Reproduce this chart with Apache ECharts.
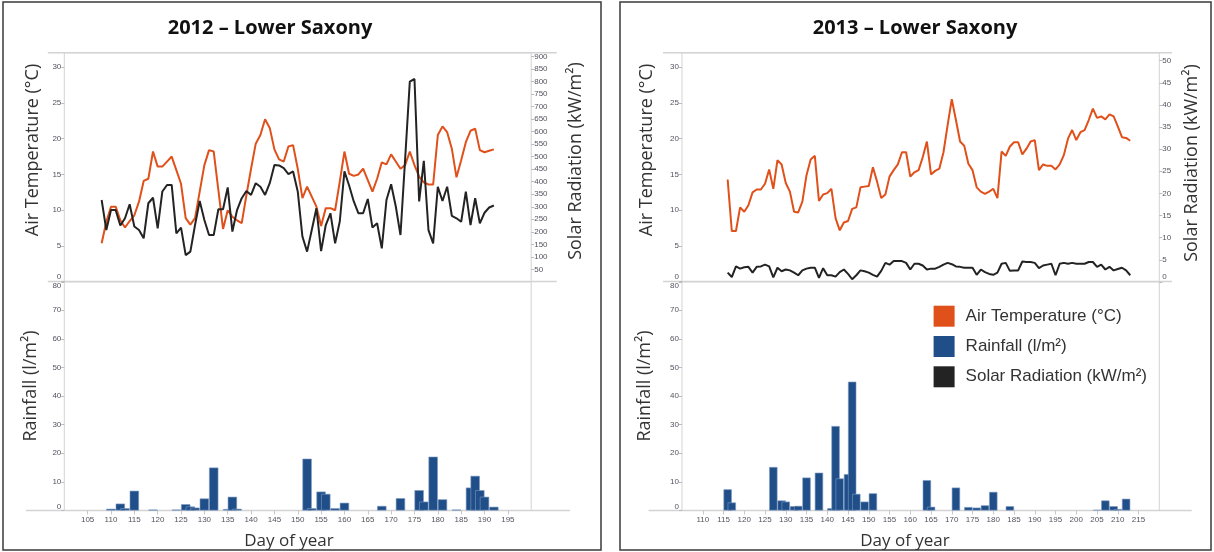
<!DOCTYPE html>
<html>
<head>
<meta charset="utf-8">
<script src="https://cdn.jsdelivr.net/npm/echarts@6/dist/echarts.min.js"></script>
<style>
  html, body { margin: 0; padding: 0; background: #fff; }
  #chart { width: 1214px; height: 552px; }
</style>
</head>
<body>
<div id="chart"></div>
<script>
// 2012 - daily values, first day 108
const startDay2012 = 108;
const temp2012 = [
  5.4, 8.4, 10.5, 10.5, 8.6, 7.6, 8.5, 9.3, 11.2, 14.1,
  14.4, 18.2, 16.1, 16.1, 16.8, 17.5, 15.6, 13.7, 8.9, 8.0,
  8.9, 12.6, 16.3, 18.4, 18.2, 12.8, 7.4, 10.0, 9.1, 8.6,
  8.2, 12.1, 15.8, 19.3, 20.5, 22.7, 21.5, 18.5, 17.1, 16.8,
  18.9, 19.1, 15.8, 11.7, 13.3, 11.9, 10.5, 7.8, 10.3, 10.3,
  10.0, 14.0, 18.2, 15.1, 14.8, 15.0, 15.8, 14.2, 12.6, 14.4,
  16.7, 16.4, 17.8, 16.8, 15.8, 16.3, 18.2, 16.3, 14.7, 13.9,
  13.6, 13.6, 20.5, 21.7, 20.9, 18.6, 14.6, 17.0, 19.5, 21.1,
  21.4, 18.4, 18.1, 18.3, 18.5
];
const solar2012 = [
  327, 207, 287, 287, 225, 254, 310, 221, 207, 174,
  314, 336, 214, 361, 387, 387, 194, 217, 107, 121,
  227, 323, 247, 187, 187, 290, 290, 377, 201, 287,
  334, 363, 347, 394, 380, 347, 394, 467, 465, 454,
  430, 441, 361, 181, 121, 207, 294, 123, 227, 274,
  154, 241, 441, 385, 321, 274, 274, 331, 217, 234,
  134, 327, 390, 301, 187, 490, 800, 810, 321, 483,
  207, 154, 380, 323, 380, 264, 254, 240, 360, 227,
  334, 234, 276, 297, 305
];
const rainDays2012 = [110, 112, 113, 115, 119, 124, 126, 127, 128, 130, 132, 135, 136, 137,
  152, 153, 155, 156, 158, 160, 168, 172, 176, 177, 179, 181, 184, 187, 188, 189, 190, 192];
const rain2012 = [0.6, 2.4, 0.8, 6.9, 0.3, 0.3, 2.2, 1.4, 1.0, 4.2, 15.0, 0.5, 4.8, 0.6,
  18.1, 0.8, 6.6, 5.8, 0.8, 2.7, 1.6, 4.3, 7.1, 3.1, 18.8, 3.9, 0.3, 8.0, 12.1, 7.1, 4.8, 1.3];

// 2013 - daily values, first day 116
const startDay2013 = 116;
const temp2013 = [
  14.3, 7.1, 7.1, 10.4, 9.8, 10.7, 12.5, 12.9, 12.9, 13.7,
  15.7, 13.0, 17.0, 16.4, 13.8, 12.6, 9.8, 9.7, 11.2, 14.9,
  17.1, 17.6, 11.3, 12.2, 12.4, 13.0, 8.9, 7.2, 8.3, 8.5,
  10.2, 10.4, 13.2, 13.3, 13.4, 16.0, 14.0, 11.7, 12.2, 14.7,
  15.6, 16.4, 18.1, 18.1, 14.7, 15.3, 15.6, 17.4, 19.6, 15.0,
  15.5, 15.8, 18.1, 21.9, 25.5, 22.6, 19.6, 19.0, 16.5, 15.6,
  13.2, 12.6, 12.3, 12.6, 13.0, 11.7, 18.2, 17.6, 18.9, 19.5,
  19.5, 17.8, 18.6, 19.6, 19.8, 15.6, 16.4, 16.2, 16.2, 15.7,
  16.4, 17.7, 20.0, 21.2, 19.8, 20.9, 21.2, 22.6, 24.2, 22.9,
  23.1, 22.7, 23.4, 23.1, 21.7, 20.2, 20.1, 19.7
];
const solar2013 = [
  2.1, 1.1, 3.5, 3.0, 3.3, 3.4, 2.1, 3.4, 3.5, 3.9,
  3.5, 1.0, 3.2, 2.4, 2.8, 2.6, 2.1, 1.5, 2.6, 3.0,
  3.2, 3.2, 0.9, 3.1, 1.5, 1.5, 1.2, 2.2, 2.8, 1.8,
  0.6, 1.5, 2.6, 2.4, 2.1, 1.6, 1.2, 2.5, 4.3, 3.9,
  4.7, 4.7, 4.7, 4.3, 2.8, 4.1, 4.1, 3.7, 2.8, 3.0,
  3.0, 3.4, 3.9, 4.3, 4.0, 3.5, 3.4, 3.2, 3.2, 3.2,
  1.6, 2.8, 2.2, 1.8, 1.6, 2.1, 4.1, 4.3, 2.5, 2.6,
  2.6, 4.6, 4.5, 4.5, 4.3, 3.1, 3.7, 3.9, 4.1, 1.5,
  4.1, 4.3, 4.1, 4.3, 4.1, 4.1, 4.1, 4.5, 4.5, 3.4,
  3.9, 2.8, 3.4, 2.6, 2.9, 3.2, 2.6, 1.5
];
const rainDays2013 = [116, 117, 127, 129, 130, 132, 133, 135, 138, 141, 142, 143, 145, 146, 147, 149, 151,
  164, 165, 171, 174, 176, 178, 180, 184, 205, 207, 209, 210, 212];
const rain2013 = [7.4, 2.8, 15.2, 3.5, 3.1, 1.5, 1.6, 11.5, 13.2, 0.8, 29.5, 11.2, 12.7, 45.0, 5.8, 3.1, 6.0,
  10.6, 1.3, 8.0, 1.2, 1.0, 1.8, 6.5, 1.5, 0.2, 3.5, 1.5, 0.5, 4.1];

const nameTemp = 'Air Temperature (°C)';
const nameRain = 'Rainfall (l/m²)';
const nameSolar = 'Solar Radiation (kW/m²)';

const cTemp = '#e0501a';
const cRain = '#1f4e89';
const cSolar = '#232323';

function daily(start, values) {
  return values.map((v, i) => [start + i, v]);
}
function pairs(days, values) {
  return days.map((d, i) => [d, values[i]]);
}

const labelColor = '#55525f';
const frameColor = '#d3d3d3';
const font = 'Open Sans';

function shiftLabel(shifted, pad) {
  return {
    fontSize: 8, color: labelColor, fontFamily: 'Liberation Sans',
    formatter: v => (v === shifted ? '{s|' + v + '}' : String(v)),
    rich: { s: { fontSize: 8, color: labelColor, fontFamily: 'Liberation Sans', padding: pad } }
  };
}

function rainLabel() {
  const l = shiftLabel(0, [0, 0, 8, 0]);
  l.formatter = v => (v === 0 ? '{s|0}' : v === 80 ? '{d|80}' : String(v));
  l.rich.d = { fontSize: 8, color: labelColor, fontFamily: 'Liberation Sans', padding: [8, 0, 0, 0] };
  return l;
}

function yAx(grid, pos, min, max, interval, label) {
  return {
    type: 'value', gridIndex: grid, position: pos, min: min, max: max, interval: interval,
    axisLine: { show: false },
    axisTick: { show: true, length: 3, lineStyle: { color: '#bbb' } },
    splitLine: { show: false },
    axisLabel: Object.assign({ margin: 3 }, label)
  };
}

function xAx(grid, min, max, show) {
  return {
    type: 'value', gridIndex: grid, min: min, max: max, interval: 5,
    show: show,
    axisLine: { show: false },
    axisTick: { show: true, length: 4, lineStyle: { color: '#c8c8c8' } },
    splitLine: { show: false },
    axisLabel: { fontSize: 8, color: labelColor, fontFamily: 'Liberation Sans', margin: 5,
      showMinLabel: false, showMaxLabel: false }
  };
}

function hline(x1, x2, y) {
  return { type: 'line', shape: { x1: x1, y1: y, x2: x2, y2: y }, style: { stroke: frameColor, lineWidth: 1.5 }, silent: true };
}
function vtext(x, y, text) {
  return { type: 'text', x: x, y: y, rotation: Math.PI / 2,
    style: { text: text, fill: '#333', fontSize: 18, fontFamily: font, align: 'center', verticalAlign: 'middle' } };
}
function htext(x, y, text, size, weight) {
  return { type: 'text', x: x, y: y,
    style: { text: text, fill: weight ? '#111' : '#333', fontSize: size, fontWeight: weight || 'normal',
      fontFamily: font, align: 'center', verticalAlign: 'middle' } };
}

const chart = echarts.init(document.getElementById('chart'));

const gridStyle = { show: true, borderColor: frameColor, borderWidth: 1, backgroundColor: 'transparent' };
const barStyle = { color: cRain, borderColor: '#7f9cc2', borderWidth: 0.6 };

const option = {
  animation: false,
  backgroundColor: '#fff',
  grid: [
    Object.assign({ left: 64.3, top: 52.7, width: 466.9, height: 229.2 }, gridStyle),
    Object.assign({ left: 64.3, top: 281.5, width: 466.9, height: 229 }, gridStyle),
    Object.assign({ left: 682, top: 52.7, width: 477.3, height: 229.2 }, gridStyle),
    Object.assign({ left: 682, top: 281.5, width: 477.3, height: 229 }, gridStyle)
  ],
  xAxis: [
    xAx(0, 100, 200, false),
    xAx(1, 100, 200, true),
    xAx(2, 105, 220, false),
    xAx(3, 105, 220, true)
  ],
  yAxis: [
    yAx(0, 'left', 0, 32, 5, Object.assign(shiftLabel(0, [0, 0, 10, 0]), { showMaxLabel: false })),
    yAx(0, 'right', 0, 915, 50, { fontSize: 8, color: labelColor, fontFamily: 'Liberation Sans', showMinLabel: false, showMaxLabel: false }),
    yAx(1, 'left', 0, 80, 10, rainLabel()),
    yAx(2, 'left', 0, 32, 5, Object.assign(shiftLabel(0, [0, 0, 10, 0]), { showMaxLabel: false })),
    yAx(2, 'right', 0, 51.8, 5, Object.assign(shiftLabel(0, [0, 0, 10, 0]), { showMaxLabel: false })),
    yAx(3, 'left', 0, 80, 10, rainLabel())
  ],
  legend: {
    orient: 'vertical', left: 928.6, top: 300.7,
    itemWidth: 21, itemHeight: 21, itemGap: 9.3, icon: 'rect',
    itemStyle: { borderWidth: 0 },
    textStyle: { fontSize: 17, fontFamily: 'Liberation Sans', color: '#333', padding: [0, 0, 0, 6] },
    data: [nameTemp, nameRain, nameSolar],
    selectedMode: false
  },
  series: [
    { name: nameRain, type: 'bar', xAxisIndex: 1, yAxisIndex: 2, barWidth: 9.3,
      itemStyle: barStyle, data: pairs(rainDays2012, rain2012) },
    { name: nameTemp, type: 'line', xAxisIndex: 0, yAxisIndex: 0, symbol: 'none',
      lineStyle: { color: cTemp, width: 2 }, itemStyle: { color: cTemp }, data: daily(startDay2012, temp2012) },
    { name: nameSolar, type: 'line', xAxisIndex: 0, yAxisIndex: 1, symbol: 'none',
      lineStyle: { color: cSolar, width: 2 }, itemStyle: { color: cSolar }, data: daily(startDay2012, solar2012) },
    { name: nameRain, type: 'bar', xAxisIndex: 3, yAxisIndex: 5, barWidth: 8.3,
      itemStyle: barStyle, data: pairs(rainDays2013, rain2013) },
    { name: nameTemp, type: 'line', xAxisIndex: 2, yAxisIndex: 3, symbol: 'none',
      lineStyle: { color: cTemp, width: 2 }, itemStyle: { color: cTemp }, data: daily(startDay2013, temp2013) },
    { name: nameSolar, type: 'line', xAxisIndex: 2, yAxisIndex: 4, symbol: 'none',
      lineStyle: { color: cSolar, width: 2 }, itemStyle: { color: cSolar }, data: daily(startDay2013, solar2013) }
  ],
  graphic: [
    { type: 'rect', shape: { x: 3, y: 2, width: 598, height: 548 }, style: { fill: 'none', stroke: '#3a3a3a', lineWidth: 1.5 }, silent: true },
    { type: 'rect', shape: { x: 620, y: 2, width: 591, height: 548 }, style: { fill: 'none', stroke: '#3a3a3a', lineWidth: 1.5 }, silent: true },
    hline(47.8, 556.8, 52.7), hline(47.8, 556.8, 281.5), hline(26, 570, 510.5),
    hline(663, 1172, 52.7), hline(663, 1172, 281.5), hline(648.5, 1191.7, 510.5),
    htext(270, 28, '2012 – Lower Saxony', 20, 'bold'),
    htext(915, 28, '2013 – Lower Saxony', 20, 'bold'),
    vtext(32.5, 150, nameTemp), vtext(576, 161, nameSolar), vtext(30.6, 386, nameRain),
    vtext(646.6, 150, nameTemp), vtext(1191.7, 163, nameSolar), vtext(644.7, 386, nameRain),
    htext(289, 541, 'Day of year', 17), htext(905, 541, 'Day of year', 17)
  ]
};

chart.setOption(option);
</script>
</body>
</html>
